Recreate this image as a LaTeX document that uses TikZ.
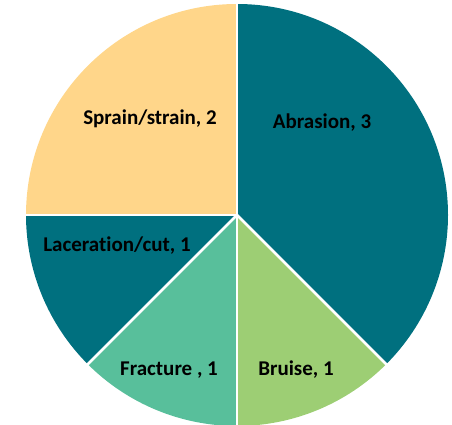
\documentclass[tikz,border=0pt]{standalone}
\usepackage{fontspec}
\setmainfont[RawFeature={-liga}]{Carlito}
\definecolor{tealdark}{HTML}{00707F}
\definecolor{sandlight}{HTML}{FFD68A}
\definecolor{seagreen}{HTML}{58BF9B}
\definecolor{leafgreen}{HTML}{9DCE74}
\begin{document}
\begin{tikzpicture}[x=1pt,y=1pt,
  lbl/.style={font=\bfseries\fontsize{21}{25}\selectfont,text=black,inner sep=0pt}]
\useasboundingbox (0,0) rectangle (452,425);
\coordinate (c) at (237,210);
\def\R{211}
% Abrasion 3/8
\fill[tealdark] (c) -- ++(90:\R) arc[start angle=90,end angle=-45,radius=\R] -- cycle;
% Bruise 1/8
\fill[leafgreen] (c) -- ++(-45:\R) arc[start angle=-45,end angle=-90,radius=\R] -- cycle;
% Fracture 1/8
\fill[seagreen] (c) -- ++(-90:\R) arc[start angle=-90,end angle=-135,radius=\R] -- cycle;
% Laceration/cut 1/8
\fill[tealdark] (c) -- ++(-135:\R) arc[start angle=-135,end angle=-180,radius=\R] -- cycle;
% Sprain/strain 2/8
\fill[sandlight] (c) -- ++(180:\R) arc[start angle=180,end angle=90,radius=\R] -- cycle;
% white separators between slices
\foreach \a in {90,-45,-90,-135,180}
  \draw[white,line width=2.6pt] (c) -- ++(\a:\R+2);
\node[lbl] (sprain) at (150,306) {Sprain/strain, 2};
\node[lbl] (abrasion) at (322,302) {Abrasion, 3};
\node[lbl] (laceration) at (117,179) {Laceration/cut, 1};
\node[lbl] (fracture) at (169,55) {Fracture , 1};
\node[lbl] (bruise) at (296,55) {Bruise, 1};
\end{tikzpicture}
\end{document}
